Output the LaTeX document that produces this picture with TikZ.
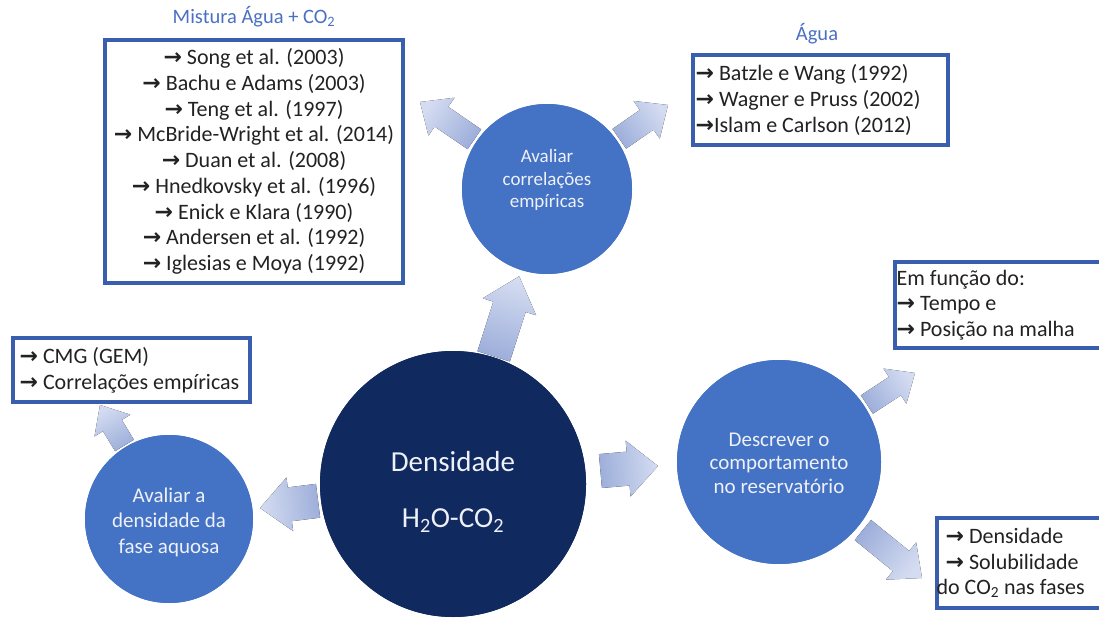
\documentclass[tikz,border=0pt]{standalone}
\usepackage{fontspec}
\setmainfont{Carlito}
\newfontfamily\arrfont{DejaVu Sans}
\usetikzlibrary{calc}
\definecolor{circ}{HTML}{4472C4}
\definecolor{navy}{HTML}{10295F}
\definecolor{boxline}{HTML}{3A5EAE}
\definecolor{titlec}{HTML}{4A70C2}
\definecolor{txt}{HTML}{222222}
\definecolor{ctxt}{HTML}{EEF1F8}
\definecolor{arbase}{HTML}{9DAEDA}
\definecolor{artip}{HTML}{D4DCF1}
\newcommand{\arrglyph}{{\arrfont\bfseries\fontsize{22}{20}\selectfont →}}
\newcommand{\ra}{\arrglyph\ }
\newcommand{\blockarrow}[7]{%
  \coordinate (s) at ($(#1)!#3!(#2)$);
  \coordinate (b) at ($(#2)!#6!(#1)$);
  \fill[top color=artip, bottom color=arbase, shading angle=#7]
    ($(s)!#4!90:(#2)$) -- ($(b)!#4!90:(#2)$) -- ($(b)!#5!90:(#2)$) -- (#2)
    -- ($(b)!#5!-90:(#2)$) -- ($(b)!#4!-90:(#2)$) -- ($(s)!#4!-90:(#2)$) -- cycle;
}
\tikzset{
  bigc/.style={circle, fill=circ, inner sep=0pt},
  ctext/.style={text=ctxt, align=center, inner sep=0pt},
  refbox/.style={draw=boxline, line width=3.2pt, fill=white, inner sep=0pt},
  btext/.style={text=txt, inner sep=0pt, font=\fontsize{22}{25.7}\selectfont},
  ttext/.style={text=titlec, inner sep=0pt, font=\fontsize{20.5}{24}\selectfont},
}
\begin{document}
\begin{tikzpicture}[x=1pt,y=1pt]
\useasboundingbox (0,0) rectangle (1099,619);
\clip (0,0) rectangle (1099,619);
% circles (nodes)
\node[bigc, fill=navy, minimum size=266pt] (main) at (453,135) {};
\node[bigc, minimum size=170pt] (top) at (547,430) {};
\node[bigc, minimum size=168pt] (left) at (169,100) {};
\node[bigc, minimum size=204pt] (right) at (779,157) {};
% arrow tip coordinates
\coordinate (ta1) at ($(main)!218pt!(top)$);
\coordinate (ta2) at (420,517);
\coordinate (ta3) at (668,514);
\coordinate (ta4) at (260,111);
\coordinate (ta5) at (100,214);
\coordinate (ta6) at (658,153);
\coordinate (ta7) at (915,246);
\coordinate (ta8) at (922,41);
% block arrows
\blockarrow{main}{ta1}{134pt}{17pt}{28pt}{32pt}{-17.7}
\blockarrow{top}{ta2}{88pt}{12pt}{23pt}{26pt}{55.6}
\blockarrow{top}{ta3}{88pt}{12pt}{23pt}{26pt}{-55.2}
\blockarrow{main}{ta4}{136pt}{17pt}{27pt}{30pt}{97}
\blockarrow{left}{ta5}{86pt}{11pt}{21pt}{24pt}{31}
\blockarrow{main}{ta6}{148pt}{17pt}{28pt}{30pt}{-85.5}
\blockarrow{right}{ta7}{105pt}{11pt}{21pt}{24pt}{-56.8}
\blockarrow{right}{ta8}{108pt}{13pt}{24pt}{27pt}{-129}
% redraw circles on top
\node[bigc, fill=navy, minimum size=266pt] at (main) {};
\node[bigc, minimum size=170pt] at (top) {};
\node[bigc, minimum size=168pt] at (left) {};
\node[bigc, minimum size=204pt] at (right) {};
% circle texts
\node[ctext, font=\fontsize{29}{56}\selectfont] (mainT) at (453,127)
  {Densidade\\H\textsubscript{2}O-CO\textsubscript{2}};
\node[ctext, font=\fontsize{19}{22.5}\selectfont] (topT) at (547,439)
  {Avaliar\\correlações\\empíricas};
\node[ctext, font=\fontsize{21}{25.5}\selectfont] (leftT) at (169,97)
  {Avaliar a\\densidade da\\fase aquosa};
\node[ctext, font=\fontsize{21}{23.5}\selectfont] (rightT) at (779,156)
  {Descrever o\\comportamento\\no reservatório};
% boxes
\node[refbox, minimum width=298pt, minimum height=243pt] (mist) at (254,457.5) {};
\node[refbox, minimum width=255pt, minimum height=90pt] (agua) at (820.5,519) {};
\node[refbox, minimum width=237pt, minimum height=64pt] (cmg) at (131.5,249) {};
\node[refbox, minimum width=215pt, minimum height=86pt] (emf) at (1002.5,314) {};
\node[refbox, minimum width=173pt, minimum height=90pt] (bot) at (1023.5,56) {};
% titles
\node[ttext] (mistT) at (254,602) {Mistura Água + CO\textsubscript{2}};
\node[ttext] (aguaT) at (817,585) {Água};
% box texts
\node[btext, align=center] (mistL) at (mist.center)
  {\ra Song et al. (2003)\\
   \ra Bachu e Adams (2003)\\
   \ra Teng et al. (1997)\\
   \ra McBride-Wright et al. (2014)\\
   \ra Duan et al. (2008)\\
   \ra Hnedkovsky et al. (1996)\\
   \ra Enick e Klara (1990)\\
   \ra Andersen et al. (1992)\\
   \ra Iglesias e Moya (1992)};
\node[btext, align=left, anchor=west] (aguaL) at ([xshift=4pt]agua.west)
  {\ra Batzle e Wang (1992)\\
   \ra Wagner e Pruss (2002)\\
   \arrglyph Islam e Carlson (2012)};
\node[btext, align=left, anchor=west] (cmgL) at ([xshift=8pt]cmg.west)
  {\ra CMG (GEM)\\
   \ra Correlações empíricas};
\node[btext, align=left, anchor=west] (emfL) at ([xshift=3pt]emf.west)
  {Em função do:\\
   \ra Tempo e\\
   \ra Posição na malha};
\node[btext, align=left, anchor=west] (botL) at ([xshift=1pt]bot.west)
  {\hspace*{9pt}\ra Densidade\\
   \hspace*{9pt}\ra Solubilidade\\
   do CO\textsubscript{2} nas fases};
\end{tikzpicture}
\end{document}
